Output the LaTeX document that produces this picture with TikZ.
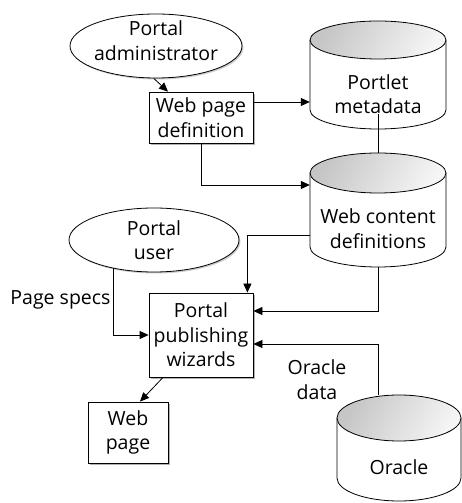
\documentclass[tikz,border=0pt]{standalone}
\usepackage{fontspec}
\setmainfont{Open Sans}
\usetikzlibrary{arrows.meta,shapes.geometric,shadows,calc}
\begin{document}
\begin{tikzpicture}[x=1pt,y=1pt,
  font=\fontsize{19.5}{24.5}\selectfont,
  every node/.style={align=center, inner sep=0pt},
  boxnode/.style={draw, fill=white, line width=0.8pt, drop shadow={shadow xshift=1.8pt, shadow yshift=-1.8pt, fill=gray!60, opacity=1}},
  actor/.style={ellipse, draw, fill=white, line width=0.8pt, drop shadow={shadow xshift=1.5pt, shadow yshift=-1.5pt, fill=gray!40, opacity=1}},
  arr/.style={line width=0.8pt, -{Triangle[length=9pt,width=8pt]}},
  conn/.style={line width=0.8pt},
  cylbody/.style={draw, fill=white, line width=0.8pt},
  cylcap/.style={draw, line width=0.8pt, left color=gray!45, right color=gray!8, shading angle=60},
  lbl/.style={}]
\useasboundingbox (0,0) rectangle (462,503);
% Y = 503 - ypx
\newcommand\drawcyl[6]{% name, xl, xr, ytop, ybot, ry
  \pgfmathsetmacro\cx{(#2+#3)/2}\pgfmathsetmacro\rx{(#3-#2)/2}
  \pgfmathsetmacro\ct{#4-#6}\pgfmathsetmacro\cb{#5+#6}
  \draw[cylbody] (#2,\ct) -- (#2,\cb) arc[start angle=180,end angle=360,x radius=\rx,y radius=#6] -- (#3,\ct);
  \draw[cylcap] (\cx,\ct) ellipse[x radius=\rx,y radius=#6];
  \node[minimum width=#3-#2, minimum height=#4-#5, anchor=center] (#1) at (\cx,{(#4+#5)/2}) {};
}
\drawcyl{portlet}{310}{446}{482}{374}{19}
\drawcyl{wc}{310}{446}{350}{236}{20}
\drawcyl{oracle}{337}{461}{108}{2}{23}
\node (portlettext) at (378,409) {Portlet\\metadata};
\node (wctext) at (378,274.5) {Web content\\definitions};
\node (oracletext) at (399,36) {Oracle};
% ---- actors and boxes
\node[actor, minimum width=172, minimum height=64] (admin) at (156,457) {};
\node (admintext) at (156,462.5) {Portal\\administrator};
\node[actor, minimum width=170, minimum height=64] (user) at (154,263) {Portal\\user};
\node[boxnode, minimum width=104, minimum height=51] (wpd) at (201,385.5) {Web page\\definition};
\node[boxnode, minimum width=104, minimum height=84] (ppw) at (201,168) {Portal\\publishing\\wizards};
\node[boxnode, minimum width=80, minimum height=61] (webpage) at (128,70.5) {Web\\page};
% ---- labels
\node[lbl] (pagespecs) at (60.5,203) {Page specs};
\node[lbl] (oracledata) at (317,123.5) {Oracle\\data};
% ---- connectors
\draw[arr] (admin.266) -- ([xshift=-33pt]wpd.north);
\draw[arr] ([yshift=15.5pt]wpd.east) -- ([yshift=15.5pt]wpd.east -| portlet.west);
\draw[arr] (wpd.south) |- ([yshift=25pt]wc.west);
\draw[conn] ([yshift=-39pt]portlet.center) -- (wc.north);
\draw[arr] ([yshift=-25pt]wc.west) -| ([xshift=-6pt]ppw.north east);
\draw[arr] (wc.south) |- ([yshift=24pt]ppw.east);
\draw[arr] ([xshift=-21pt]oracle.north) |- ([yshift=-9pt]ppw.east);
\draw[arr] (user.215) |- (ppw.west);
\draw[arr] ([xshift=-38pt]ppw.south) -- ([xshift=12pt]webpage.north);
\end{tikzpicture}
\end{document}
